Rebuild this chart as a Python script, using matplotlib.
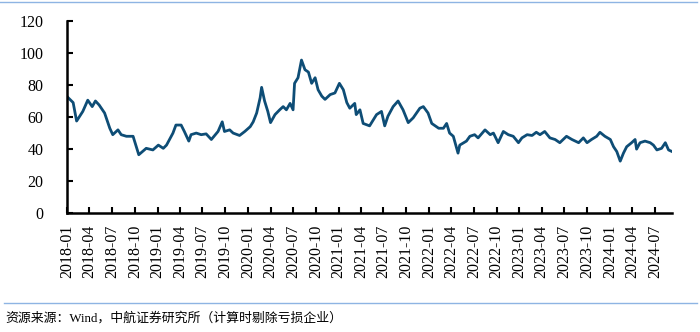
import pandas as pd
import matplotlib
matplotlib.use('Agg')
import matplotlib.pyplot as plt
from matplotlib.lines import Line2D

# Series values
dates = [
    '2018-01-02', '2018-01-25', '2018-02-08', '2018-03-05', '2018-03-25', '2018-04-12',
    '2018-04-25', '2018-05-10', '2018-06-01', '2018-06-22', '2018-07-04', '2018-07-25',
    '2018-08-07', '2018-08-28', '2018-09-24', '2018-10-07', '2018-10-17', '2018-11-16',
    '2018-12-13', '2019-01-04', '2019-01-24', '2019-02-06', '2019-03-04', '2019-03-16',
    '2019-04-06', '2019-04-19', '2019-05-07', '2019-05-16', '2019-06-06', '2019-06-26',
    '2019-07-16', '2019-08-06', '2019-09-02', '2019-09-19', '2019-09-28', '2019-10-19',
    '2019-11-02', '2019-11-28', '2019-12-19', '2020-01-10', '2020-01-22', '2020-02-05',
    '2020-02-19', '2020-02-25', '2020-03-08', '2020-03-21', '2020-04-01', '2020-04-19',
    '2020-05-08', '2020-05-22', '2020-06-04', '2020-06-19', '2020-07-01', '2020-07-07',
    '2020-07-21', '2020-08-04', '2020-08-18', '2020-09-01', '2020-09-14', '2020-09-28',
    '2020-10-10', '2020-10-25', '2020-11-07', '2020-11-28', '2020-12-17', '2021-01-04',
    '2021-01-20', '2021-02-03', '2021-02-15', '2021-03-07', '2021-03-13', '2021-03-28',
    '2021-04-10', '2021-05-06', '2021-06-03', '2021-06-23', '2021-07-06', '2021-07-19',
    '2021-08-09', '2021-08-29', '2021-09-18', '2021-10-09', '2021-10-29', '2021-11-25',
    '2021-12-09', '2021-12-28', '2022-01-12', '2022-02-09', '2022-02-28', '2022-03-13',
    '2022-03-25', '2022-04-09', '2022-04-28', '2022-05-05', '2022-06-01', '2022-06-15',
    '2022-07-04', '2022-07-18', '2022-08-15', '2022-09-05', '2022-09-18', '2022-10-07',
    '2022-10-28', '2022-11-17', '2022-12-07', '2022-12-28', '2023-01-11', '2023-02-01',
    '2023-02-21', '2023-03-10', '2023-03-25', '2023-04-13', '2023-05-04', '2023-05-25',
    '2023-06-13', '2023-07-10', '2023-08-01', '2023-08-28', '2023-09-16', '2023-10-01',
    '2023-10-19', '2023-11-09', '2023-11-22', '2023-12-12', '2024-01-03', '2024-01-16',
    '2024-01-29', '2024-02-12', '2024-02-25', '2024-03-09', '2024-03-29', '2024-04-12',
    '2024-04-18', '2024-05-02', '2024-05-22', '2024-06-12', '2024-06-25', '2024-07-09',
    '2024-07-28', '2024-08-12', '2024-08-25', '2024-09-08',
]
values = [
    72.5, 69, 57.5, 63.5, 70.5, 66.5,
    70, 67.5, 62.5, 53, 49, 52,
    49, 48, 48, 41.5, 36.5, 40.5,
    39.5, 42.5, 40.5, 42.5, 50, 55,
    55, 51, 45, 49, 50, 49,
    49.5, 46, 51, 57, 51, 52,
    50, 48.5, 51, 54, 57, 62.5,
    72, 78.5, 70, 63.5, 56.5, 61.5,
    64.5, 66.5, 64.5, 68.5, 64.5, 81,
    84.5, 95.5, 89.5, 88, 81, 84.5,
    77, 73, 71, 74, 75, 81,
    77, 69, 65.5, 68.5, 61.5, 64.5,
    56, 54.5, 61.5, 63.5, 54.5, 60.5,
    66.5, 70, 64.5, 56.5, 59.5, 65.5,
    66.5, 62.5, 56, 53, 53, 56,
    50, 48, 37.5, 42.5, 45, 48,
    49, 47, 52, 49, 50, 44,
    51, 49, 48, 44, 47, 49,
    48.5, 50.5, 49, 51, 47, 46,
    44, 48, 46, 44, 47, 44,
    46, 48, 50.5, 48, 46, 41.5,
    38.5, 32.5, 37.5, 41.5, 44, 46,
    40, 44, 45, 44, 42.5, 39.5,
    40.5, 44, 39.5, 38.5,
]
tick_dates = pd.date_range('2018-01-01', '2024-07-01', freq='3MS')
source = '资源来源：Wind，中航证券研究所（计算时剔除亏损企业）'

x = pd.to_datetime(dates)
fonts = ['Liberation Serif', 'Noto Sans CJK SC', 'DejaVu Sans']
plt.rcParams['font.family'] = fonts

fig = plt.figure(figsize=(7, 3.32), dpi=100)
ax = fig.add_axes([0.096, 0.3575, 0.864, 0.58])

ax.plot(x, values, '-', c='#0E4D76', lw=2.0)

ax.set_xlim(x[0], x[-1])
ax.set_ylim(0, 120)
ax.set_yticks(range(0, 121, 20))
ax.set_xticks(tick_dates)
ax.set_xticklabels([d.strftime('%Y-%m') for d in tick_dates], rotation=90)
ax.tick_params(direction='in', length=4, width=1.5, labelsize=11.5, colors='black')
ax.tick_params(axis='y', pad=17)
ax.tick_params(axis='x', pad=8)
for s in ['top', 'right']:
    ax.spines[s].set_visible(False)
for s in ['left', 'bottom']:
    ax.spines[s].set_linewidth(1.8)

# Light blue rules above the chart and above the source note
fig.add_artist(Line2D([0.0, 0.995], [0.994, 0.994], color='#8EB4E3', lw=1))
fig.add_artist(Line2D([0.005, 0.995], [0.087, 0.087], color='#8EB4E3', lw=1))
fig.text(0.008, 0.042, source, fontsize=9.3, va='center', ha='left')

fig.savefig('out.png', dpi=100)
plt.close()
